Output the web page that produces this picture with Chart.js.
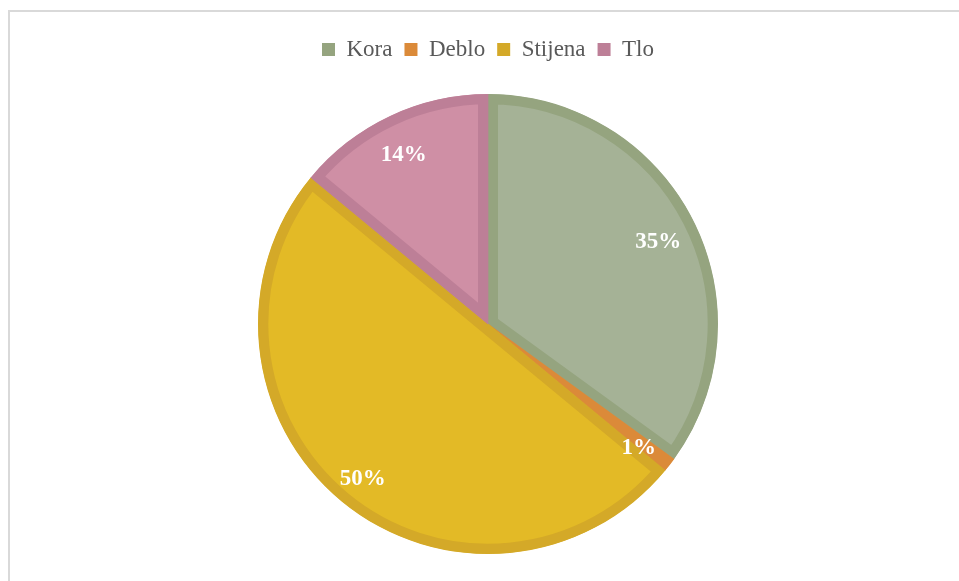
<!DOCTYPE html>
<html>
<head>
<meta charset="utf-8">
<script src="https://cdn.jsdelivr.net/npm/chart.js@4.4.1/dist/chart.umd.min.js"></script>
<style>
    html, body { margin: 0; padding: 0; background: #fff; }
    #frame {
        position: absolute; left: 8px; top: 10px;
        width: 951px; height: 571px;
        border-left: 2px solid #d9d9d9; border-top: 2px solid #d9d9d9;
    }
    #wrap { position: absolute; left: 0; top: 0; width: 949px; height: 569px; }
</style>
</head>
<body>
<div id="frame"><div id="wrap"><canvas id="pieChart"></canvas></div></div>
<script>
/* ------------------- */
/*   Pie - udjeli      */
/* ------------------- */

const categories = ['Kora', 'Deblo', 'Stijena', 'Tlo'];
const shares = [35, 1, 50, 14];
const fillColors = ['#a5b296', '#e0913f', '#e3ba26', '#cf8fa5'];
const edgeColors = ['#95a47f', '#db8a39', '#d4a928', '#bd7f97'];

// razmak izmedju legende i grafa
const legendGap = {
    id: 'legendGap',
    beforeInit(chart) {
        const fit = chart.legend.fit;
        chart.legend.fit = function () {
            fit.bind(chart.legend)();
            this.height += 23;
        };
    }
};

// postoci unutar isjecaka
const sliceLabels = {
    id: 'sliceLabels',
    afterDatasetsDraw(chart) {
        const ctx = chart.ctx;
        const meta = chart.getDatasetMeta(0);
        ctx.save();
        ctx.fillStyle = '#ffffff';
        ctx.font = 'bold 23px "Liberation Serif", "Times New Roman", serif';
        ctx.textAlign = 'center';
        ctx.textBaseline = 'middle';
        meta.data.forEach(function (arc, i) {
            const p = arc.getProps(['x', 'y', 'startAngle', 'endAngle', 'outerRadius'], true);
            const mid = (p.startAngle + p.endAngle) / 2;
            const r = p.outerRadius * 0.84;
            ctx.fillText(shares[i] + '%', p.x + Math.cos(mid) * r - 2, p.y + Math.sin(mid) * r + 6);
        });
        ctx.restore();
    }
};

new Chart(document.getElementById('pieChart').getContext('2d'), {
    type: 'pie',
    data: {
        labels: categories,
        datasets: [{
            data: shares,
            backgroundColor: fillColors,
            borderColor: edgeColors,
            borderWidth: 10,
            borderAlign: 'inner'
        }]
    },
    options: {
        responsive: true,
        maintainAspectRatio: false,
        animation: false,
        layout: { padding: { top: 14, bottom: 27, left: 7, right: 0 } },
        plugins: {
            tooltip: { enabled: false },
            legend: {
                position: 'top',
                labels: {
                    color: '#595959',
                    font: { family: '"Liberation Serif", "Times New Roman", serif', size: 23 },
                    boxWidth: 13,
                    boxHeight: 13,
                    padding: 12,
                    generateLabels(chart) {
                        const items = Chart.controllers.pie.overrides.plugins.legend.labels.generateLabels(chart);
                        items.forEach(function (it, i) {
                            it.fillStyle = edgeColors[i];
                            it.strokeStyle = edgeColors[i];
                            it.lineWidth = 0;
                        });
                        return items;
                    }
                }
            }
        }
    },
    plugins: [legendGap, sliceLabels]
});
</script>
</body>
</html>
